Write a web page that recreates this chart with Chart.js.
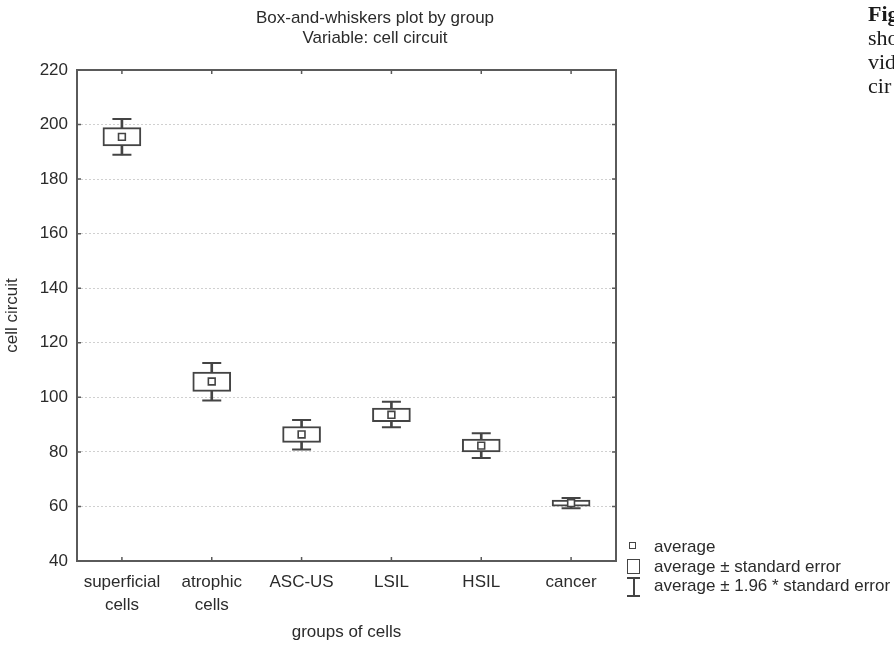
<!DOCTYPE html>
<html>
<head>
<meta charset="utf-8">
<script src="https://cdn.jsdelivr.net/npm/chart.js@4.4.1/dist/chart.umd.min.js"></script>
<style>
  body { margin: 0; background: #fff; }
  #wrap { position: relative; width: 894px; height: 647px; overflow: hidden;
          font-family: 'Liberation Sans', Arial, sans-serif; color: #2b2b2b; }
  #title { position: absolute; left: 175px; width: 400px; top: 8px; text-align: center;
           font-size: 17px; line-height: 20px; }
  .leg { position: absolute; left: 654px; font-size: 17px; line-height: 20px; white-space: nowrap; }
  .ico { position: absolute; box-sizing: border-box; }
  #caption { position: absolute; left: 868px; top: 2px; width: 26px; overflow: hidden;
             font-family: 'Liberation Serif', 'DejaVu Serif', serif; font-size: 22px;
             line-height: 24px; color: #1a1a1a; white-space: nowrap; }
</style>
</head>
<body>
<div id="wrap">
  <canvas id="grafico"></canvas>
  <div id="title">Box-and-whiskers plot by group<br>Variable: cell circuit</div>

  <!-- leyenda -->
  <div class="ico" style="left:629px;top:542px;width:7px;height:7px;border:1.5px solid #444;"></div>
  <div class="leg" style="top:537px;">average</div>
  <div class="ico" style="left:627px;top:559px;width:13px;height:15px;border:1.5px solid #444;"></div>
  <div class="leg" style="top:557px;">average ± standard error</div>
  <div class="ico" style="left:627px;top:577px;width:13px;height:2px;background:#444;"></div>
  <div class="ico" style="left:632.5px;top:577px;width:2px;height:20px;background:#444;"></div>
  <div class="ico" style="left:627px;top:595px;width:13px;height:2px;background:#444;"></div>
  <div class="leg" style="top:576px;">average ± 1.96 * standard error</div>

  <div id="caption"><b>Fig</b><br>sho<br>vid<br>cir</div>
</div>
<script>
// datos
var categories = [['superficial', 'cells'], ['atrophic', 'cells'], 'ASC-US', 'LSIL', 'HSIL', 'cancer'];
var average = [195.5, 105.8, 86.4, 93.6, 82.3, 61.2];
var seLow = [192.2, 102.2, 83.5, 91.1, 80.0, 60.1];
var seHigh = [198.9, 109.3, 89.3, 96.1, 84.7, 62.3];
var ciLow = [188.9, 98.8, 80.9, 89.0, 77.8, 59.3];
var ciHigh = [202.0, 112.6, 91.7, 98.4, 86.8, 63.1];
var yMin = 40;
var yMax = 220;
var yStep = 20;

var fuente = "'Liberation Sans', Arial, sans-serif";
var gris = '#444444';

// marco con ticks hacia adentro
var marco = {
    id: 'marco',
    afterDraw: function (chart) {
        var ctx = chart.ctx;
        var a = chart.chartArea;
        ctx.save();
        ctx.strokeStyle = '#5a5a5a';
        ctx.lineWidth = 2;
        ctx.strokeRect(a.left, a.top, a.right - a.left, a.bottom - a.top);
        ctx.lineWidth = 1.5;
        ctx.beginPath();
        var y = chart.scales.y;
        y.ticks.forEach(function (t, i) {
            var py = y.getPixelForTick(i);
            ctx.moveTo(a.left, py); ctx.lineTo(a.left + 4, py);
            ctx.moveTo(a.right, py); ctx.lineTo(a.right - 4, py);
        });
        var x = chart.scales.x;
        x.ticks.forEach(function (t, i) {
            var px = x.getPixelForTick(i);
            ctx.moveTo(px, a.top); ctx.lineTo(px, a.top + 4);
            ctx.moveTo(px, a.bottom); ctx.lineTo(px, a.bottom - 4);
        });
        ctx.stroke();
        ctx.restore();
    }
};

var graphTarget = document.getElementById('grafico');
var grafico = new Chart(graphTarget, {
    type: 'bar',
    data: {
        labels: categories,
        datasets: [
            {
                type: 'line', label: 'average', data: average, showLine: false,
                pointStyle: 'rect', pointRadius: 4.8, pointBorderWidth: 1.6,
                pointBackgroundColor: '#fff', pointBorderColor: gris
            },
            {
                type: 'line', label: 'ci high', data: ciHigh, showLine: false,
                pointStyle: 'line', pointRadius: 9.5, pointBorderWidth: 2, pointBorderColor: gris
            },
            {
                type: 'line', label: 'ci low', data: ciLow, showLine: false,
                pointStyle: 'line', pointRadius: 9.5, pointBorderWidth: 2, pointBorderColor: gris
            },
            {
                label: 'average ± standard error',
                data: seLow.map(function (v, i) { return [v, seHigh[i]]; }),
                backgroundColor: '#fff', borderColor: gris, borderWidth: 2,
                borderSkipped: false, barThickness: 38, grouped: false
            },
            {
                label: 'average ± 1.96 * standard error',
                data: ciLow.map(function (v, i) { return [v, ciHigh[i]]; }),
                backgroundColor: gris, borderWidth: 0, barThickness: 2, grouped: false
            }
        ]
    },
    options: {
        responsive: true,
        maintainAspectRatio: false,
        animation: false,
        layout: { padding: { top: 70, right: 278, bottom: 0, left: 0 } },
        plugins: {
            legend: { display: false },
            tooltip: { enabled: false }
        },
        scales: {
            x: {
                afterFit: function (s) { s.height = 86; },
                grid: { display: false, drawTicks: false },
                border: { display: false },
                ticks: { color: '#2b2b2b', padding: 10, maxRotation: 0, autoSkip: false,
                         font: { family: fuente, size: 17, lineHeight: 1.35 } },
                title: { display: true, text: 'groups of cells', color: '#2b2b2b',
                         padding: { top: 0, bottom: 4 }, font: { family: fuente, size: 17 } }
            },
            y: {
                min: yMin, max: yMax,
                afterFit: function (s) { s.width = 77; },
                grid: { color: '#d0d0d0', lineWidth: 1, drawTicks: false },
                border: { display: false, dash: [2, 2] },
                ticks: { stepSize: yStep, color: '#2b2b2b', padding: 9,
                         font: { family: fuente, size: 17 } },
                title: { display: true, text: 'cell circuit', color: '#2b2b2b',
                         padding: { top: 2, bottom: 0 }, font: { family: fuente, size: 17 } }
            }
        }
    },
    plugins: [marco]
});
</script>
</body>
</html>
